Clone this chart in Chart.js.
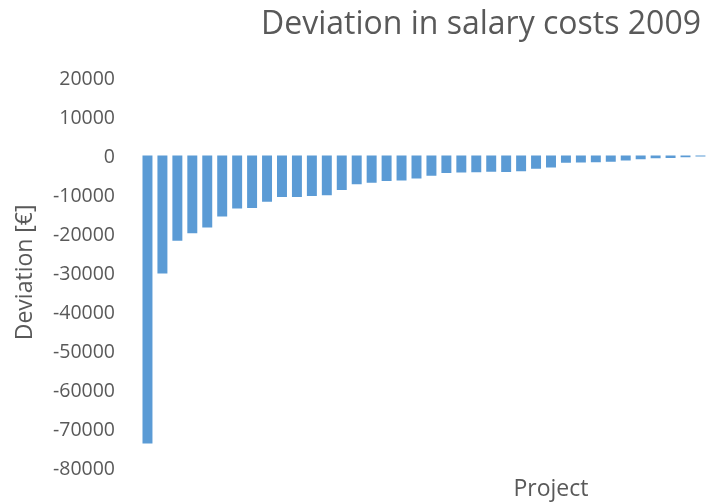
<!DOCTYPE html>
<html>
<head>
<meta charset="utf-8">
<title>Deviation in salary costs 2009</title>
<script src="https://cdn.jsdelivr.net/npm/chart.js@4/dist/chart.umd.min.js"></script>
<style>
  html, body { margin: 0; padding: 0; overflow: hidden; background: #fff; }
  canvas { display: block; }
</style>
</head>
<body>
<canvas id="deviationChart" width="962" height="504"></canvas>
<script>
// 55 projects on the axis; only the first 39 fall inside the window
const projectCount = 55;
const projects = Array.from({ length: projectCount }, (_, i) => 'Project ' + (i + 1));

const deviation = [
    -73900, -30300, -21900, -20000, -18500, -15700, -13600, -13500, -11900, -10700,
    -10700, -10400, -10200, -8900, -7400, -7000, -6600, -6450, -5900, -5200,
    -4550, -4400, -4300, -4220, -4250, -4100, -3400, -3100, -1900, -1850,
    -1750, -1650, -1330, -970, -720, -640, -460, -300, -200
];

const yMin = -80000;
const yMax = 20000;
const yStep = 10000;

const textColor = '#595959';
const barColor = '#5B9BD5';

const ctx = document.getElementById('deviationChart').getContext('2d');
const deviationChart = new Chart(ctx, {
    type: 'bar',
    data: {
        labels: projects,
        datasets: [{
            label: 'Deviation',
            data: deviation,
            backgroundColor: barColor,
            borderWidth: 0,
            barPercentage: 0.667,
            categoryPercentage: 1
        }]
    },
    options: {
        responsive: false,
        animation: false,
        layout: { padding: 0 },
        plugins: {
            legend: { display: false },
            tooltip: { enabled: false },
            title: {
                display: true,
                text: 'Deviation in salary costs 2009',
                color: textColor,
                font: { family: 'Open Sans', size: 32, weight: 'normal', lineHeight: 1.2 },
                padding: { top: 6, bottom: 33 }
            }
        },
        scales: {
            x: {
                grid: { display: false, drawTicks: false },
                border: { display: false },
                ticks: { display: false },
                title: {
                    display: true,
                    text: 'Project',
                    color: textColor,
                    font: { family: 'Open Sans', size: 23, lineHeight: 1.2 },
                    padding: { top: 8, bottom: 0 }
                }
            },
            y: {
                min: yMin,
                max: yMax,
                grid: { display: false, drawTicks: false },
                border: { display: false },
                ticks: {
                    stepSize: yStep,
                    color: textColor,
                    padding: 25,
                    labelOffset: 2,
                    font: { family: 'Open Sans', size: 19.5 },
                    callback: value => String(value)
                },
                title: {
                    display: true,
                    text: 'Deviation [€]',
                    color: textColor,
                    font: { family: 'Open Sans', size: 23, lineHeight: 1.2 },
                    padding: { top: 12, bottom: 0 }
                },
                afterFit: function(scale) {
                    scale.width = 140;
                }
            }
        }
    }
});
</script>
</body>
</html>
